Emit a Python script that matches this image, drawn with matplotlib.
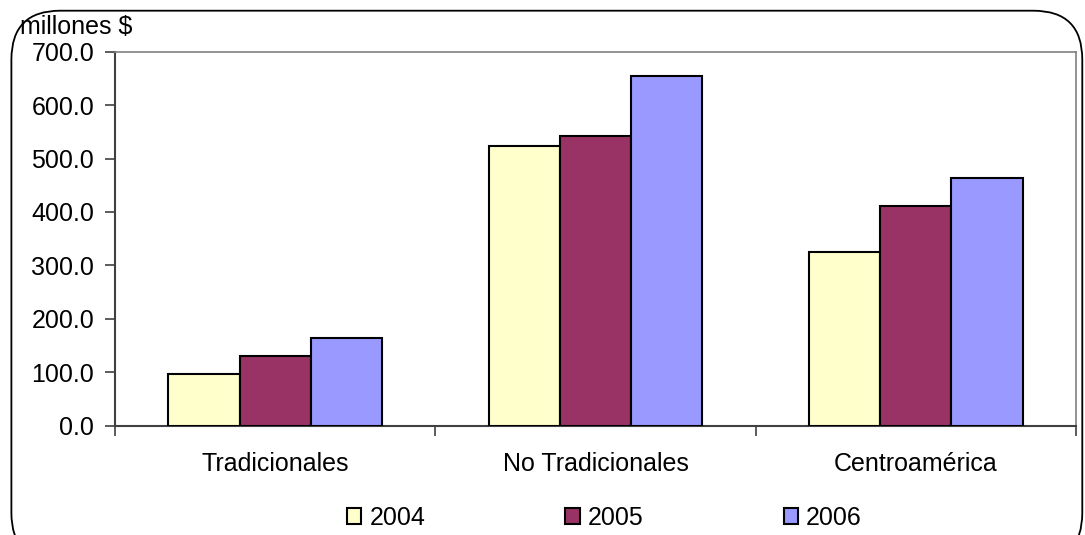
import numpy as np
import matplotlib.pyplot as plt
from matplotlib.patches import FancyBboxPatch

plt.rcParams['font.family'] = ['Liberation Sans', 'DejaVu Sans']

categorias = ['Tradicionales', 'No Tradicionales', 'Centroamérica']
anios = ['2004', '2005', '2006']
v2004 = [97.0, 524.0, 325.0]
v2005 = [130.5, 542.0, 411.0]
v2006 = [164.0, 655.0, 463.0]
colores = ['#FFFFCC', '#993366', '#9999FF']

fig = plt.figure(figsize=(10.85, 5.35), dpi=100)
ax = fig.add_axes([0.106, 0.2043, 0.8857, 0.6991])

x = np.arange(len(categorias))
ancho = 1 / 4.5
for i, (serie, col, lab) in enumerate(zip([v2004, v2005, v2006], colores, anios)):
    ax.bar(x + (i - 1) * ancho, serie, width=ancho, color=col,
           edgecolor='black', linewidth=1.5, label=lab, zorder=3)

ax.set_xlim(-0.5, 2.5)
ax.set_ylim(0, 700)
ax.set_yticks(np.arange(0, 701, 100))
ax.set_yticklabels([f'{v:.1f}' for v in np.arange(0, 701, 100)])
ax.set_xticks(x)
ax.set_xticklabels(categorias)
ax.set_xticks([-0.5, 0.5, 1.5, 2.5], minor=True)

ax.tick_params(axis='y', length=7, width=1.2, color='#404040',
               labelsize=18, pad=8)
ax.tick_params(axis='x', which='major', length=0, labelsize=18, pad=19)
ax.tick_params(axis='x', which='minor', length=7, width=1.2, color='#404040')

for s in ['left', 'bottom']:
    ax.spines[s].set_color('#404040')
    ax.spines[s].set_linewidth(1.5)
for s in ['top', 'right']:
    ax.spines[s].set_color('#808080')
    ax.spines[s].set_linewidth(1.2)

fig.text(0.018, 0.949, 'millones $', fontsize=18, ha='left', va='center')

fig.legend(loc='center', bbox_to_anchor=(0.557, 0.032), ncol=3, frameon=False,
           fontsize=18, handlelength=0.58, handleheight=0.58,
           handletextpad=0.32, columnspacing=5.6)

# rounded frame around the chart
marco = FancyBboxPatch((0.0105, -0.05), 0.987, 1.03,
                       boxstyle='round,pad=0,rounding_size=0.045',
                       transform=fig.transFigure, facecolor='none',
                       edgecolor='black', linewidth=1.3,
                       mutation_aspect=1085 / 535)
fig.patches.append(marco)

fig.savefig('out.png', dpi=100)
